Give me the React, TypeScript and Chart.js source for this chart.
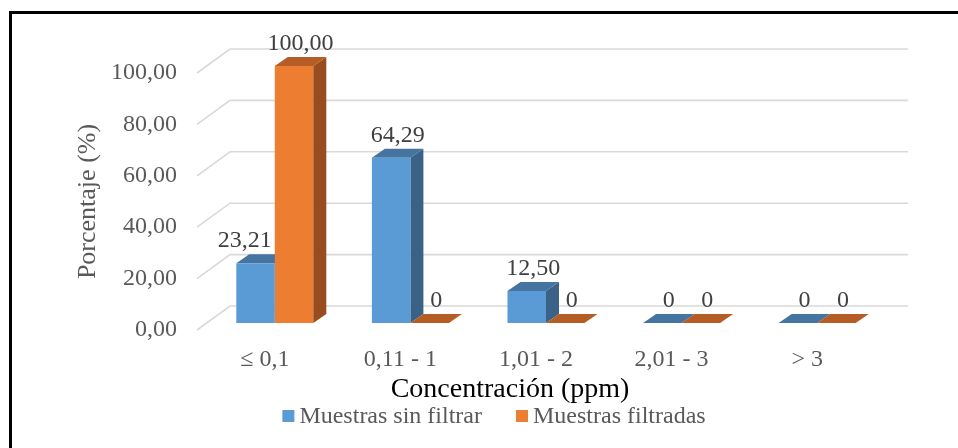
import { useEffect, useRef } from 'react';
import { Chart, registerables } from 'chart.js';

Chart.register(...registerables);

// ---- data ----
const categories = ['≤ 0,1', '0,11 - 1', '1,01 - 2', '2,01 - 3', '> 3'];
const sinFiltrar = [23.21, 64.29, 12.5, 0, 0];
const filtradas = [100, 0, 0, 0, 0];
const seriesNames = ['Muestras sin filtrar', 'Muestras filtradas'];
const yTickValues = [0, 20, 40, 60, 80, 100];
const xTitle = 'Concentración (ppm)';
const yTitle = 'Porcentaje (%)';

// ---- style ----
const FRONT = ['#5b9bd5', '#ed7d31'];
const TOP = ['#44749f', '#b55d24'];
const SIDE = ['#3a6186', '#994d1e'];
const SERIF = "'Liberation Serif', 'Times New Roman', serif";
const DX = 13, DY = -9;          // bar depth
const PX = 10, PY = -7;          // floor-front plane -> bar-front plane
const WX = 33, WY = -24;         // floor-front plane -> back wall
const LEGEND_CX = 494, LEGEND_BASE = 423;
const XTITLE_CX = 510, XTITLE_BASE = 397;

const fmt = (v: number) => (v === 0 ? '0' : v.toFixed(2).replace('.', ','));

function drawFaces(chart: any, i: number) {
  const ctx = chart.ctx;
  ctx.save();
  ctx.translate(PX, PY);
  chart.getDatasetMeta(i).data.forEach((bar: any) => {
    const { x, y, base, width } = bar.getProps(['x', 'y', 'base', 'width'], true);
    const L = x - width / 2, R = x + width / 2;
    if (base - y > 0.5) {
      ctx.fillStyle = SIDE[i];
      ctx.beginPath();
      ctx.moveTo(R, y);
      ctx.lineTo(R + DX, y + DY);
      ctx.lineTo(R + DX, base + DY);
      ctx.lineTo(R, base);
      ctx.closePath();
      ctx.fill();
    }
    ctx.fillStyle = TOP[i];
    ctx.beginPath();
    ctx.moveTo(L, y);
    ctx.lineTo(R, y);
    ctx.lineTo(R + DX, y + DY);
    ctx.lineTo(L + DX, y + DY);
    ctx.closePath();
    ctx.fill();
  });
  ctx.restore();
}

const threeD = {
  id: 'threeD',
  beforeDraw(chart: any) {
    const ctx = chart.ctx;
    ctx.save();
    ctx.fillStyle = '#ffffff';
    ctx.fillRect(0, 0, chart.width, chart.height);
    ctx.fillStyle = '#000000';
    ctx.fillRect(9, 11, 3, chart.height - 11);
    ctx.fillRect(9, 11, chart.width - 9, 3);
    ctx.restore();
  },
  beforeDatasetsDraw(chart: any) {
    const { ctx, chartArea: a } = chart;
    const y = chart.scales.y;
    ctx.save();
    ctx.strokeStyle = '#d9d9d9';
    ctx.lineWidth = 1.6;
    y.ticks.forEach((t: any) => {
      const py = y.getPixelForValue(t.value);
      ctx.beginPath();
      ctx.moveTo(a.left, py);
      ctx.lineTo(a.left + WX, py + WY);
      ctx.lineTo(a.right + WX, py + WY);
      ctx.stroke();
    });
    ctx.restore();
    // hidden faces of the first series go under the second series' fronts
    drawFaces(chart, 0);
  },
  beforeDatasetDraw(chart: any) {
    chart.ctx.save();
    chart.ctx.translate(PX, PY);
  },
  afterDatasetDraw(chart: any, args: any) {
    chart.ctx.restore();
    if (args.index === 1) drawFaces(chart, 1);
  },
  afterDatasetsDraw(chart: any) {
    const ctx = chart.ctx;
    const metas = [chart.getDatasetMeta(0), chart.getDatasetMeta(1)];
    ctx.save();
    ctx.font = `24px ${SERIF}`;
    ctx.fillStyle = '#404040';
    ctx.textAlign = 'center';
    ctx.textBaseline = 'alphabetic';
    metas.forEach((meta: any, di: number) => {
      meta.data.forEach((bar: any, j: number) => {
        const v = chart.data.datasets[di].data[j];
        const { x, y } = bar.getProps(['x', 'y'], true);
        const txt = fmt(v);
        const w = ctx.measureText(txt).width;
        let cx = x + DX / 2 + PX;
        const by = y + DY + PY - 7;
        const nextMeta = metas[di + 1];
        if (nextMeta) {
          const nb = nextMeta.data[j].getProps(['x', 'y', 'width'], true);
          const nLeft = nb.x - nb.width / 2 + PX;
          if (nb.y + PY < by && cx + w / 2 > nLeft - 3) cx = nLeft - 3 - w / 2;
        }
        ctx.fillText(txt, cx, by);
      });
    });
    ctx.restore();
  },
  afterDraw(chart: any) {
    const ctx = chart.ctx;
    ctx.save();
    // x axis title
    ctx.font = `28px ${SERIF}`;
    ctx.fillStyle = '#000000';
    ctx.textAlign = 'center';
    ctx.textBaseline = 'alphabetic';
    ctx.fillText(xTitle, XTITLE_CX, XTITLE_BASE);
    // legend
    ctx.font = `24px ${SERIF}`;
    ctx.textAlign = 'left';
    const box = 12, gap = 5, spacing = 34;
    const widths = seriesNames.map((n) => ctx.measureText(n).width);
    const total = widths.reduce((s, w) => s + box + gap + w, 0) + spacing * (seriesNames.length - 1);
    let x = LEGEND_CX - total / 2;
    seriesNames.forEach((n, k) => {
      ctx.fillStyle = FRONT[k];
      ctx.fillRect(x, LEGEND_BASE - 13, box, box);
      ctx.fillStyle = '#595959';
      ctx.fillText(n, x + box + gap, LEGEND_BASE);
      x += box + gap + widths[k] + spacing;
    });
    ctx.restore();
  },
};

export default function App() {
  const ref = useRef<HTMLCanvasElement>(null);
  useEffect(() => {
    if (!ref.current) return;
    const chart = new Chart(ref.current, {
      type: 'bar',
      data: {
        labels: categories,
        datasets: [
          { label: seriesNames[0], data: sinFiltrar, backgroundColor: FRONT[0], borderWidth: 0, clip: false as any },
          { label: seriesNames[1], data: filtradas, backgroundColor: FRONT[1], borderWidth: 0, clip: false as any },
        ],
      },
      options: {
        responsive: false,
        animation: false,
        devicePixelRatio: 1,
        events: [],
        layout: { padding: { left: 40, right: 83, top: 73, bottom: 40 } },
        datasets: { bar: { categoryPercentage: 0.568, barPercentage: 1 } },
        plugins: { legend: { display: false }, tooltip: { enabled: false } },
        scales: {
          x: {
            offset: true,
            grid: { display: false, drawTicks: false },
            border: { display: false },
            ticks: { color: '#595959', font: { family: SERIF, size: 24 }, padding: 15, maxRotation: 0, autoSkip: false },
            title: { display: false },
            afterFit: (s: any) => { s.height = 78; },
          },
          y: {
            min: 0,
            max: 100,
            grid: { display: false, drawTicks: false },
            border: { display: false },
            afterBuildTicks: (s: any) => { s.ticks = yTickValues.map((v) => ({ value: v })); },
            ticks: {
              color: '#595959',
              font: { family: SERIF, size: 24 },
              padding: 20,
              callback: (v: any) => Number(v).toFixed(2).replace('.', ','),
            },
            title: { display: true, text: yTitle, color: '#595959', font: { family: SERIF, size: 26 }, padding: { top: 33, bottom: 0 } },
            afterFit: (s: any) => { s.width = 157; },
          },
        },
      },
      plugins: [threeD],
    } as any);
    return () => chart.destroy();
  }, []);
  return (
    <div style={{ position: 'fixed', left: 0, top: 0, width: 958, height: 448, background: '#fff' }}>
      <canvas ref={ref} width={958} height={448} style={{ display: 'block' }} />
    </div>
  );
}
